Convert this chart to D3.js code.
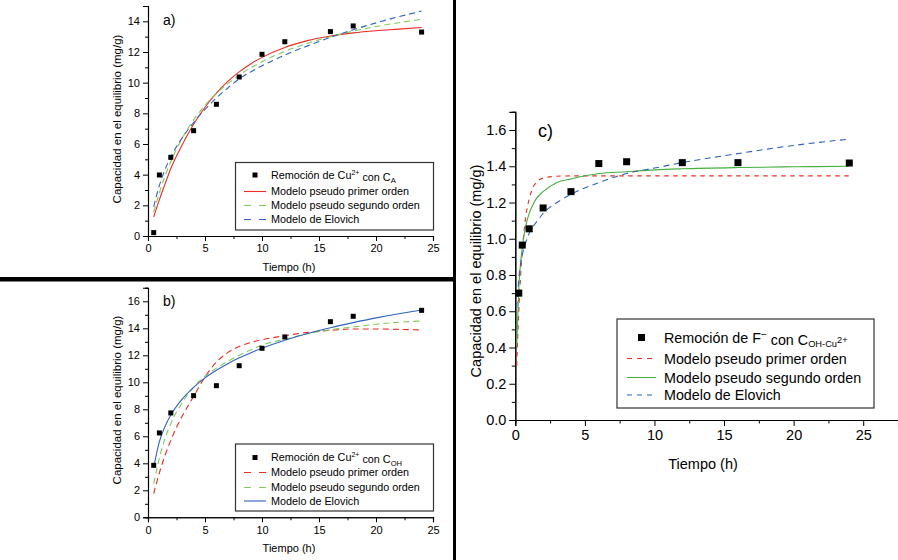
<!DOCTYPE html>
<html><head><meta charset="utf-8">
<script src="https://cdn.jsdelivr.net/npm/d3@7"></script>
<style>
html,body{margin:0;padding:0;background:#fff;}
svg{display:block;font-family:"Liberation Sans",Arial,sans-serif;}
</style></head>
<body>
<svg id="chart" width="898" height="560"></svg>
<script>
// ---------- DATA ----------
const obsTimesAB = [0.5, 1, 2, 4, 6, 8, 10, 12, 16, 18, 24];
const obsA = [0.22, 3.98, 5.13, 6.87, 8.59, 10.37, 11.85, 12.67, 13.33, 13.70, 13.30];
const obsB = [3.85, 6.25, 7.73, 9.01, 9.75, 11.23, 12.52, 13.36, 14.49, 14.89, 15.33];

const modelTimesAB = [0.5, 1, 1.5, 2, 3, 4, 5, 6, 7, 8, 9, 10, 12, 14, 16, 18, 20, 22, 24];
const pfoA = [1.24, 2.37, 3.40, 4.40, 5.95, 7.29, 8.40, 9.32, 10.08, 10.70, 11.22, 11.65, 12.30, 12.74, 13.04, 13.25, 13.39, 13.49, 13.60];
const psoA = [1.55, 2.83, 3.93, 4.86, 6.38, 7.57, 8.52, 9.30, 9.94, 10.49, 10.96, 11.37, 12.04, 12.57, 13.00, 13.36, 13.66, 13.91, 14.13];
const eloA = [1.90, 3.30, 4.35, 5.15, 6.40, 7.40, 8.25, 9.00, 9.65, 10.25, 10.70, 11.10, 11.80, 12.40, 12.95, 13.45, 13.90, 14.30, 14.67];

const pfoB = [1.75, 3.30, 4.60, 5.70, 7.50, 8.95, 10.40, 11.50, 12.20, 12.65, 12.95, 13.15, 13.45, 13.70, 13.85, 13.95, 13.95, 13.92, 13.88];
const psoB = [2.50, 4.40, 5.85, 6.95, 8.50, 9.65, 10.45, 11.05, 11.55, 12.00, 12.40, 12.75, 13.20, 13.60, 13.90, 14.10, 14.30, 14.45, 14.54];
const eloB = [3.70, 5.60, 6.75, 7.58, 8.76, 9.63, 10.33, 10.89, 11.38, 11.81, 12.18, 12.52, 13.11, 13.61, 14.04, 14.42, 14.77, 15.08, 15.36];

const obsTimesC = [0.25, 0.5, 1, 2, 4, 6, 8, 12, 16, 24];
const obsC = [0.70, 0.965, 1.055, 1.17, 1.26, 1.415, 1.425, 1.42, 1.42, 1.418];
const modelTimesC = [0.1, 0.25, 0.5, 0.75, 1, 1.25, 1.5, 2, 3, 4, 6, 8, 10, 12, 16, 20, 24];
const pfoC = [0.30, 0.60, 0.93, 1.12, 1.22, 1.28, 1.31, 1.335, 1.345, 1.347, 1.347, 1.347, 1.347, 1.347, 1.347, 1.347, 1.347];
const psoC = [0.41, 0.72, 0.95, 1.07, 1.14, 1.185, 1.22, 1.26, 1.31, 1.33, 1.36, 1.37, 1.38, 1.386, 1.393, 1.397, 1.40];
const eloC = [0.62, 0.78, 0.91, 0.98, 1.03, 1.065, 1.09, 1.14, 1.20, 1.245, 1.31, 1.36, 1.39, 1.42, 1.47, 1.515, 1.55];

const xTicksAB = [0, 5, 10, 15, 20, 25];
const yTicksA = [0, 2, 4, 6, 8, 10, 12, 14];
const yTicksB = [0, 2, 4, 6, 8, 10, 12, 14, 16];
const yTicksC = [0, 0.2, 0.4, 0.6, 0.8, 1.0, 1.2, 1.4, 1.6];

const legendLabels = ["Modelo pseudo primer orden", "Modelo pseudo segundo orden", "Modelo de Elovich"];

// ---------- STYLE ----------
const RED = "#ee2a24", GREEN = "#7fcc5a", BLUE = "#2f63c0", GREEN_C = "#44b040";

const svg = d3.select("#chart");

function panel(cfg) {
  const g = svg.append("g");
  const x = d3.scaleLinear().domain(cfg.xDomain).range(cfg.xRange);
  const y = d3.scaleLinear().domain(cfg.yDomain).range(cfg.yRange);
  const fs = cfg.fontSize;

  const xAxis = d3.axisBottom(x).tickValues(cfg.xTicks).tickSize(cfg.major).tickPadding(3)
    .tickFormat(d3.format("d"));
  const xMinor = d3.axisBottom(x).tickValues(cfg.xMinor).tickSize(cfg.minor).tickFormat("");
  const yAxis = d3.axisLeft(y).tickValues(cfg.yTicks).tickSize(cfg.major).tickPadding(3)
    .tickFormat(cfg.yFormat);
  const yMinor = d3.axisLeft(y).tickValues(cfg.yMinor).tickSize(cfg.minor).tickFormat("");

  const gx = g.append("g").attr("transform", `translate(0,${cfg.yRange[0]})`);
  gx.call(xAxis); gx.append("g").call(xMinor);
  const gy = g.append("g").attr("transform", `translate(${cfg.xRange[0]},0)`);
  gy.call(yAxis); gy.append("g").call(yMinor);
  g.selectAll(".domain").attr("stroke", "#000").attr("stroke-width", 1.1);
  g.selectAll(".tick line").attr("stroke", "#000").attr("stroke-width", 1);
  g.selectAll(".tick text").attr("font-size", fs).attr("fill", "#000")
    .attr("font-family", '"Liberation Sans",Arial,sans-serif');
  gx.selectAll(".tick text").attr("dy", cfg.xLabelDy);

  g.append("text").attr("x", cfg.xTitle[0]).attr("y", cfg.xTitle[1]).attr("text-anchor", "middle")
    .attr("font-size", fs).text("Tiempo (h)");
  g.append("text").attr("transform", `translate(${cfg.yTitle[0]},${cfg.yTitle[1]}) rotate(-90)`)
    .attr("text-anchor", "middle").attr("font-size", cfg.yTitleSize).text("Capacidad en el equilibrio (mg/g)");
  g.append("text").attr("x", cfg.tag[0]).attr("y", cfg.tag[1]).attr("font-size", cfg.tagSize).text(cfg.tagText);

  const line = d3.line().x(d => x(d[0])).y(d => y(d[1])).curve(d3.curveMonotoneX);
  cfg.series.forEach(s => {
    g.append("path").datum(cfg.modelTimes.map((t, i) => [t, s.values[i]]))
      .attr("d", line).attr("fill", "none").attr("stroke", s.color)
      .attr("stroke-width", s.width || 1.1).attr("stroke-dasharray", s.dash || null);
  });

  const ms = cfg.marker;
  g.selectAll("rect.pt").data(cfg.obsTimes.map((t, i) => [t, cfg.obs[i]])).join("rect")
    .attr("x", d => x(d[0]) - ms / 2).attr("y", d => y(d[1]) - ms / 2)
    .attr("width", ms).attr("height", ms).attr("fill", "#000");

  const L = cfg.legend;
  g.append("rect").attr("x", L.x).attr("y", L.y).attr("width", L.w).attr("height", L.h)
    .attr("fill", "#fff").attr("stroke", "#333").attr("stroke-width", 1.2);
  const rows = L.rows;
  g.append("rect").attr("x", L.symX - ms / 2).attr("y", rows[0] - ms / 2).attr("width", ms).attr("height", ms).attr("fill", "#000");
  const t0 = g.append("text").attr("x", L.textX).attr("y", rows[0]).attr("dy", "0.35em").attr("font-size", L.fs);
  cfg.legendTitle(t0, L.fs);
  cfg.series.forEach((s, i) => {
    g.append("line").attr("x1", L.lineX[0]).attr("x2", L.lineX[1]).attr("y1", rows[i + 1]).attr("y2", rows[i + 1])
      .attr("stroke", s.color).attr("stroke-width", s.width || 1.1)
      .attr("stroke-dasharray", s.legendDash || s.dash || null);
    g.append("text").attr("x", L.textX).attr("y", rows[i + 1]).attr("dy", "0.35em").attr("font-size", L.fs)
      .text(legendLabels[i]);
  });
}

function minorTicks(lo, hi, step) {
  const out = [];
  for (let v = lo; v <= hi + 1e-9; v += step) out.push(+v.toFixed(4));
  return out;
}

// Panel a
panel({
  xDomain: [0, 25], xRange: [148, 433], yDomain: [0, 15], yRange: [236, 6],
  xTicks: xTicksAB, xMinor: [2.5, 7.5, 12.5, 17.5, 22.5], yTicks: yTicksA, yMinor: [1, 3, 5, 7, 9, 11, 13, 15],
  yFormat: d3.format("d"), major: 5, minor: 3, fontSize: 11, xLabelDy: "0.75em",
  xTitle: [289, 271], yTitle: [121, 119], yTitleSize: 11.5, tag: [163, 25], tagSize: 14, tagText: "a)",
  modelTimes: modelTimesAB, obsTimes: obsTimesAB, obs: obsA, marker: 5,
  series: [
    { values: pfoA, color: RED },
    { values: psoA, color: GREEN, dash: "6,4", legendDash: "7,8" },
    { values: eloA, color: BLUE, dash: "6,4", legendDash: "7,8" }
  ],
  legend: { x: 235.5, y: 162.5, w: 198, h: 67.5, rows: [175, 191.5, 205.5, 219.5], symX: 255, lineX: [244, 266], textX: 271, fs: 10.8 },
  legendTitle: (t, fs) => {
    t.append("tspan").text("Remoción de Cu");
    t.append("tspan").attr("font-size", fs * 0.65).attr("dy", "-0.55em").text("2+");
    t.append("tspan").attr("dy", "0.55em").text(" con C");
    t.append("tspan").attr("font-size", fs * 0.7).attr("dy", "0.3em").text("A");
  }
});

// Panel b
panel({
  xDomain: [0, 25], xRange: [148, 433], yDomain: [0, 17], yRange: [517.3, 287.8],
  xTicks: xTicksAB, xMinor: [2.5, 7.5, 12.5, 17.5, 22.5], yTicks: yTicksB, yMinor: [1, 3, 5, 7, 9, 11, 13, 15, 17],
  yFormat: d3.format("d"), major: 5, minor: 3, fontSize: 11, xLabelDy: "0.75em",
  xTitle: [289, 552], yTitle: [121, 400], yTitleSize: 11.5, tag: [163, 306], tagSize: 14, tagText: "b)",
  modelTimes: modelTimesAB, obsTimes: obsTimesAB, obs: obsB, marker: 5,
  series: [
    { values: pfoB, color: RED, dash: "6,4", legendDash: "7,8" },
    { values: psoB, color: GREEN, dash: "6,4", legendDash: "7,8" },
    { values: eloB, color: BLUE }
  ],
  legend: { x: 235.5, y: 444, w: 198, h: 67, rows: [457.5, 472.5, 487.5, 501], symX: 255, lineX: [244, 266], textX: 271, fs: 10.8 },
  legendTitle: (t, fs) => {
    t.append("tspan").text("Remoción de Cu");
    t.append("tspan").attr("font-size", fs * 0.65).attr("dy", "-0.55em").text("2+");
    t.append("tspan").attr("dy", "0.55em").text(" con C");
    t.append("tspan").attr("font-size", fs * 0.7).attr("dy", "0.3em").text("OH");
  }
});

// Panel c
panel({
  xDomain: [0, 27.5], xRange: [515.3, 898], yDomain: [0, 1.7], yRange: [420, 111.9],
  xTicks: xTicksAB, xMinor: [2.5, 7.5, 12.5, 17.5, 22.5, 27.5], yTicks: yTicksC, yMinor: minorTicks(0.1, 1.7, 0.2),
  yFormat: d3.format(".1f"), major: 6, minor: 3.5, fontSize: 14.5, xLabelDy: "0.75em",
  xTitle: [703, 469], yTitle: [481, 271], yTitleSize: 14.5, tag: [538, 137], tagSize: 18, tagText: "c)",
  modelTimes: modelTimesC, obsTimes: obsTimesC, obs: obsC, marker: 7,
  series: [
    { values: pfoC, color: RED, dash: "4.5,4.5", legendDash: "5,5" },
    { values: psoC, color: GREEN_C },
    { values: eloC, color: BLUE, dash: "6,4.5", legendDash: "5,5" }
  ],
  legend: { x: 617, y: 319, w: 257, h: 89, rows: [337.5, 358.5, 377.5, 395], symX: 641.5, lineX: [627, 656], textX: 664, fs: 14.3 },
  legendTitle: (t, fs) => {
    t.append("tspan").text("Remoción de F");
    t.append("tspan").attr("font-size", fs * 0.7).attr("dy", "-0.5em").text("−");
    t.append("tspan").attr("dy", "0.5em").text(" con C");
    t.append("tspan").attr("font-size", fs * 0.65).attr("dy", "0.3em").text("OH-Cu");
    t.append("tspan").attr("font-size", fs * 0.65).attr("dy", "-0.5em").text("2+");
  }
});

// Panel separators
svg.append("rect").attr("x", 0).attr("y", 277).attr("width", 456).attr("height", 4.5).attr("fill", "#000");
svg.append("rect").attr("x", 453).attr("y", 0).attr("width", 3).attr("height", 560).attr("fill", "#000");
</script>
</body></html>
